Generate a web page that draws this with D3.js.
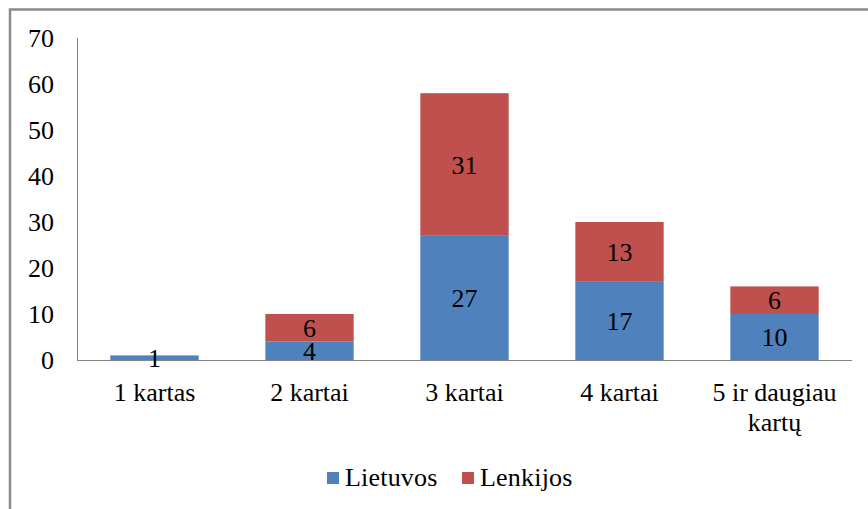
<!DOCTYPE html>
<html><head><meta charset="utf-8">
<script src="https://cdn.jsdelivr.net/npm/d3@7"></script>
<style>body{margin:0;background:#fff}svg{display:block}</style>
</head><body><svg id="c" width="868" height="509" font-family="'Liberation Serif', 'Times New Roman', Tinos, 'DejaVu Serif', serif"></svg>
<script>
const categories = ["1 kartas", "2 kartai", "3 kartai", "4 kartai", "5 ir daugiau kartų"];
const categoryLines = [["1 kartas"], ["2 kartai"], ["3 kartai"], ["4 kartai"], ["5 ir daugiau", "kartų"]];
const seriesNames = ["Lietuvos", "Lenkijos"];
const lietuvos = [1, 4, 27, 17, 10];
const lenkijos = [0, 6, 31, 13, 6];
const yTicks = [0, 10, 20, 30, 40, 50, 60, 70];
const colors = ["#4F81BD", "#C0504D"];

const svg = d3.select("#c");
const FS = 26;
const FF = "'Liberation Serif', 'Times New Roman', Tinos, 'DejaVu Serif', serif";
// frame
svg.append("rect").attr("x", 10).attr("y", 9.5).attr("width", 1000).attr("height", 1000)
  .attr("fill", "none").attr("stroke", "#8a8a8a").attr("stroke-width", 2.5);

const x = d3.scaleBand().domain(categories).range([77, 852]).paddingInner(0.43).paddingOuter(0.215);
const y = d3.scaleLinear().domain([0, 70]).range([360, 38]);

// axes lines
svg.append("line").attr("x1", 77.5).attr("x2", 77.5).attr("y1", y(70)).attr("y2", y(0)).attr("stroke", "#868686");
svg.append("line").attr("x1", 77).attr("x2", 852).attr("y1", y(0) + 0.5).attr("y2", y(0) + 0.5).attr("stroke", "#868686");

function txt(sel) { return sel.style("font-family", FF).style("font-size", FS + "px").attr("fill", "#000"); }

// y labels
txt(svg.selectAll(".yt").data(yTicks).enter().append("text")
  .attr("x", 54).attr("y", d => y(d) + 9).attr("text-anchor", "end")).text(d => d);

const data = categories.map((c, i) => ({cat: c, Lietuvos: lietuvos[i], Lenkijos: lenkijos[i]}));
const stack = d3.stack().keys(seriesNames)(data);

stack.forEach((s, si) => {
  const g = svg.append("g");
  g.selectAll("rect").data(s).enter().append("rect")
    .attr("x", d => x(d.data.cat)).attr("width", x.bandwidth())
    .attr("y", d => y(d[1])).attr("height", d => y(d[0]) - y(d[1]))
    .attr("fill", colors[si]);
  txt(g.selectAll("text").data(s.filter(d => d[1] - d[0] > 0)).enter().append("text")
    .attr("x", d => x(d.data.cat) + x.bandwidth() / 2)
    .attr("y", d => Math.min((y(d[0]) + y(d[1])) / 2, y(0)) + 9)
    .attr("text-anchor", "middle"))
    .text(d => d[1] - d[0]);
});

// x labels
categories.forEach((c, i) => {
  const t = txt(svg.append("text").attr("text-anchor", "middle"));
  categoryLines[i].forEach((ln, j) => {
    t.append("tspan").attr("x", x(c) + x.bandwidth() / 2).attr("y", 401 + j * 30).text(ln);
  });
});

// legend
const legendX = [327, 462];
seriesNames.forEach((n, i) => {
  svg.append("rect").attr("x", legendX[i]).attr("y", 472).attr("width", 12).attr("height", 12).attr("fill", colors[i]);
  txt(svg.append("text").attr("x", legendX[i] + 18).attr("y", 486))
    .style("letter-spacing", "0.2px").text(n);
});
</script></body></html>
